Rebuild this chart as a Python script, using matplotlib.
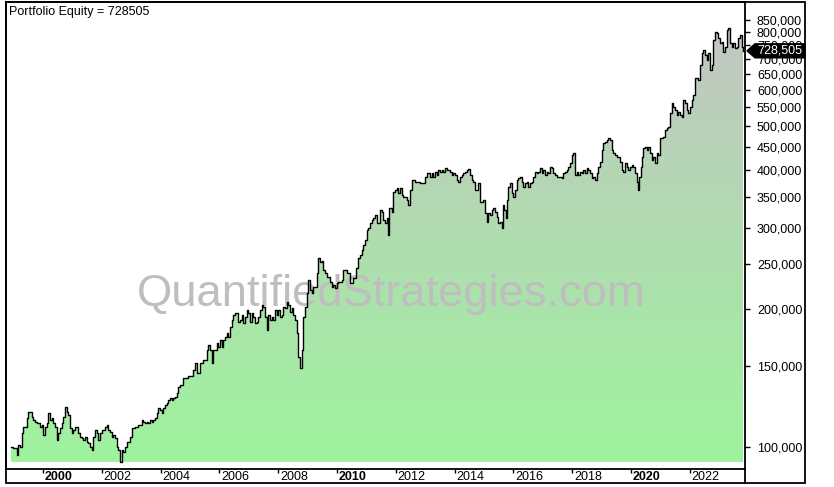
import numpy as np
import matplotlib
matplotlib.use("Agg")
import matplotlib.pyplot as plt
from matplotlib.ticker import FixedLocator, FuncFormatter, NullLocator
from matplotlib.patches import Rectangle, Polygon
from matplotlib.lines import Line2D

plt.rcParams["font.family"] = ["Liberation Sans", "DejaVu Sans"]

# weekly equity curve (years as decimals, equity in thousands)
years_1999_2004 = [
    1998.91, 1998.98, 1999.12, 1999.15, 1999.22, 1999.29, 1999.32, 1999.46, 1999.49, 1999.56,
    1999.63, 1999.66, 1999.73, 1999.80, 1999.90, 1999.97, 2000.00, 2000.07, 2000.14, 2000.17,
    2000.24, 2000.31, 2000.34, 2000.41, 2000.48, 2000.51, 2000.58, 2000.65, 2000.68, 2000.75,
    2000.82, 2000.85, 2000.92, 2000.99, 2001.02, 2001.09, 2001.16, 2001.19, 2001.26, 2001.33,
    2001.36, 2001.43, 2001.50, 2001.53, 2001.60, 2001.67, 2001.70, 2001.77, 2001.84, 2001.87,
    2001.94, 2002.01, 2002.04, 2002.11, 2002.18, 2002.21, 2002.28, 2002.35, 2002.38, 2002.45,
    2002.52, 2002.55, 2002.62, 2002.69, 2002.72, 2002.79, 2002.86, 2002.89, 2002.96, 2003.03,
    2003.06, 2003.13, 2003.20, 2003.23, 2003.30, 2003.37, 2003.40, 2003.47, 2003.54, 2003.57,
    2003.64, 2003.71, 2003.74, 2003.81, 2003.88, 2003.91, 2003.98, 2004.05, 2004.08, 2004.15,
    2004.22, 2004.25, 2004.32, 2004.39, 2004.42, 2004.49, 2004.56, 2004.59, 2004.66]
equity_1999_2004 = [
    100.0, 99.5, 96.1, 101.0, 100.0, 107.3, 110.6, 115.7, 119.2, 119.2,
    116.2, 114.5, 113.4, 112.8, 110.6, 111.7, 106.2, 110.6, 112.8, 118.6,
    114.5, 115.7, 112.8, 110.6, 103.6, 107.3, 110.0, 112.8, 116.2, 122.2,
    119.2, 117.4, 110.0, 107.3, 108.9, 110.6, 110.6, 107.3, 105.1, 104.6,
    103.6, 105.1, 102.5, 102.0, 100.0, 98.5, 105.1, 108.9, 107.3, 103.6,
    107.3, 108.9, 108.9, 110.6, 111.7, 108.9, 107.8, 105.1, 106.2, 104.6,
    100.0, 98.5, 92.8, 98.5, 97.5, 100.0, 102.5, 102.5, 105.1, 110.0,
    110.0, 110.6, 110.6, 111.7, 111.7, 114.5, 113.4, 112.8, 113.4, 112.8,
    114.5, 113.4, 114.5, 115.7, 118.6, 121.6, 120.4, 118.6, 121.6, 123.5,
    124.7, 126.6, 127.9, 126.6, 127.9, 128.5, 131.1, 135.1, 136.4]

years_2005_2010 = [
    2004.76, 2004.93, 2005.10, 2005.17, 2005.24, 2005.27, 2005.34, 2005.44, 2005.58, 2005.61,
    2005.68, 2005.75, 2005.78, 2005.92, 2005.95, 2006.02, 2006.09, 2006.12, 2006.19, 2006.26,
    2006.29, 2006.36, 2006.43, 2006.46, 2006.53, 2006.60, 2006.63, 2006.70, 2006.77, 2006.80,
    2006.87, 2006.94, 2006.97, 2007.04, 2007.11, 2007.14, 2007.21, 2007.28, 2007.31, 2007.38,
    2007.45, 2007.48, 2007.55, 2007.62, 2007.65, 2007.72, 2007.79, 2007.82, 2007.89, 2007.96,
    2007.99, 2008.06, 2008.13, 2008.16, 2008.23, 2008.30, 2008.33, 2008.40, 2008.47, 2008.50,
    2008.57, 2008.64, 2008.67, 2008.74, 2008.81, 2008.84, 2008.91, 2008.98, 2009.01, 2009.08,
    2009.15, 2009.18, 2009.25, 2009.32, 2009.35, 2009.42, 2009.49, 2009.52, 2009.59, 2009.66,
    2009.76, 2009.83, 2009.86, 2009.93, 2010.00, 2010.03, 2010.17, 2010.20, 2010.34, 2010.44,
    2010.54, 2010.65]
equity_2005_2010 = [
    141.3, 142.7, 147.1, 152.3, 144.9, 144.9, 152.3, 154.7, 162.6, 166.7,
    162.6, 152.3, 162.6, 168.4, 165.0, 171.0, 165.0, 171.0, 173.6, 177.1,
    173.6, 182.5, 189.0, 193.8, 195.7, 195.7, 187.1, 189.0, 193.8, 186.2,
    191.9, 198.7, 195.7, 187.1, 195.7, 191.9, 186.2, 187.1, 191.9, 198.7,
    203.7, 201.7, 191.9, 179.8, 193.8, 189.0, 191.9, 189.0, 198.7, 193.8,
    198.7, 191.9, 193.8, 201.7, 200.7, 206.8, 203.7, 196.7, 200.7, 193.8,
    189.0, 177.1, 157.0, 148.6, 162.6, 191.9, 201.7, 216.4, 231.0, 219.7,
    216.4, 223.0, 223.0, 239.2, 258.0, 252.6, 253.9, 242.8, 239.2, 234.5,
    228.6, 223.0, 225.3, 221.9, 227.5, 228.6, 231.0, 242.8, 239.2, 227.5,
    233.4, 245.3]

years_2011_2018 = [
    2010.71, 2010.78, 2010.85, 2010.88, 2010.95, 2011.02, 2011.05, 2011.12, 2011.19, 2011.22,
    2011.29, 2011.36, 2011.39, 2011.46, 2011.53, 2011.56, 2011.63, 2011.70, 2011.73, 2011.77,
    2011.87, 2011.90, 2011.97, 2012.04, 2012.07, 2012.14, 2012.21, 2012.24, 2012.31, 2012.38,
    2012.41, 2012.48, 2012.55, 2012.59, 2012.65, 2012.72, 2012.82, 2012.89, 2012.99, 2013.06,
    2013.10, 2013.16, 2013.23, 2013.27, 2013.33, 2013.40, 2013.44, 2013.50, 2013.57, 2013.61,
    2013.67, 2013.74, 2013.78, 2013.84, 2013.91, 2013.95, 2014.01, 2014.08, 2014.12, 2014.18,
    2014.25, 2014.29, 2014.35, 2014.42, 2014.46, 2014.52, 2014.59, 2014.63, 2014.69, 2014.76,
    2014.80, 2014.86, 2014.93, 2014.97, 2015.03, 2015.10, 2015.14, 2015.20, 2015.27, 2015.31,
    2015.37, 2015.44, 2015.48, 2015.54, 2015.61, 2015.65, 2015.68, 2015.75, 2015.78, 2015.82,
    2015.88, 2015.95, 2015.99, 2016.05, 2016.12, 2016.16, 2016.22, 2016.29, 2016.33, 2016.39,
    2016.46, 2016.50, 2016.56, 2016.63, 2016.67, 2016.73, 2016.80, 2016.84, 2016.90, 2016.97,
    2017.01, 2017.07, 2017.14, 2017.18, 2017.24, 2017.31, 2017.35, 2017.41, 2017.48, 2017.52,
    2017.59, 2017.65, 2017.69, 2017.76, 2017.82, 2017.86, 2017.93, 2017.99, 2018.03, 2018.10,
    2018.16, 2018.20, 2018.27]
equity_2011_2018 = [
    258.0, 261.8, 268.4, 275.2, 282.3, 296.8, 299.8, 306.8, 312.0, 315.1,
    320.0, 306.8, 306.8, 328.1, 324.8, 312.0, 306.8, 315.1, 289.4, 331.4,
    324.8, 359.0, 362.6, 366.3, 357.3, 366.3, 353.7, 350.2, 350.2, 345.0,
    336.4, 362.6, 381.3, 381.3, 377.5, 377.5, 375.6, 375.6, 387.1, 394.9,
    394.9, 387.1, 394.9, 387.1, 396.9, 391.0, 400.8, 396.9, 400.8, 396.9,
    404.9, 400.8, 400.8, 396.9, 391.0, 394.9, 391.0, 381.3, 377.5, 387.1,
    391.0, 394.9, 396.9, 400.8, 402.8, 391.0, 381.3, 377.5, 362.6, 362.6,
    375.6, 341.6, 341.6, 345.0, 323.1, 308.9, 323.1, 320.0, 328.1, 331.4,
    324.8, 316.7, 306.8, 308.4, 299.8, 336.4, 328.1, 315.1, 345.0, 368.1,
    375.6, 357.3, 350.2, 362.6, 381.3, 385.1, 387.1, 377.5, 368.1, 375.6,
    377.5, 368.1, 375.6, 377.5, 387.1, 396.9, 394.9, 396.9, 404.9, 394.9,
    400.8, 391.0, 396.9, 394.9, 406.9, 404.9, 394.9, 391.0, 387.1, 387.1,
    387.1, 385.1, 394.9, 396.9, 400.8, 406.9, 415.1, 432.2, 436.6, 391.0,
    396.9, 391.0, 396.9]

years_2018_2023 = [
    2018.33, 2018.37, 2018.44, 2018.50, 2018.54, 2018.61, 2018.67, 2018.71, 2018.78, 2018.84,
    2018.88, 2018.95, 2019.01, 2019.05, 2019.12, 2019.18, 2019.22, 2019.29, 2019.35, 2019.39,
    2019.46, 2019.52, 2019.56, 2019.63, 2019.69, 2019.73, 2019.80, 2019.86, 2019.90, 2019.97,
    2020.03, 2020.07, 2020.14, 2020.20, 2020.24, 2020.27, 2020.34, 2020.37, 2020.41, 2020.48,
    2020.54, 2020.58, 2020.65, 2020.71, 2020.75, 2020.82, 2020.88, 2020.92, 2020.99, 2021.05,
    2021.09, 2021.16, 2021.22, 2021.26, 2021.33, 2021.39, 2021.43, 2021.50, 2021.56, 2021.60,
    2021.67, 2021.73, 2021.77, 2021.84, 2021.90, 2021.94, 2022.01, 2022.07, 2022.11, 2022.18,
    2022.24, 2022.28, 2022.35, 2022.41, 2022.45, 2022.52, 2022.59, 2022.62, 2022.69, 2022.76,
    2022.79, 2022.86, 2022.93, 2022.96, 2023.03, 2023.10, 2023.13, 2023.20, 2023.27, 2023.30,
    2023.37, 2023.44, 2023.47, 2023.54, 2023.61, 2023.64, 2023.71, 2023.78, 2023.81]
equity_2018_2023 = [
    394.9, 400.8, 394.9, 404.9, 400.8, 394.9, 385.1, 387.1, 381.3, 394.9,
    406.9, 417.3, 443.1, 459.0, 461.3, 465.9, 470.6, 465.9, 443.1, 436.6,
    432.2, 427.9, 427.9, 417.3, 400.8, 396.9, 415.1, 406.9, 400.8, 406.9,
    411.0, 406.9, 394.9, 377.5, 362.6, 387.1, 406.9, 427.9, 447.6, 449.8,
    443.1, 449.8, 436.6, 421.5, 427.9, 415.1, 436.6, 432.2, 470.6, 470.6,
    473.0, 489.8, 494.7, 497.2, 533.4, 560.8, 549.6, 541.4, 528.1, 536.1,
    528.1, 522.8, 569.2, 560.8, 541.4, 533.4, 549.6, 569.2, 583.7, 635.6,
    635.6, 629.3, 678.4, 720.5, 731.3, 713.2, 695.6, 720.5, 661.6, 678.4,
    768.9, 800.3, 796.3, 776.6, 757.5, 761.3, 724.0, 742.4, 808.4, 816.5,
    757.5, 742.4, 757.5, 738.7, 742.4, 776.6, 788.4, 742.4, 728.505]

year_ticks = [2000, 2002, 2004, 2006, 2008, 2010, 2012, 2014, 2016, 2018, 2020, 2022]
equity_ticks = [100000, 150000, 200000, 250000, 300000, 350000, 400000, 450000,
                500000, 550000, 600000, 650000, 700000, 750000, 800000, 850000]

years = np.array(years_1999_2004 + years_2005_2010 + years_2011_2018 + years_2018_2023)
equity = np.round(np.array(equity_1999_2004 + equity_2005_2010 + equity_2011_2018
                           + equity_2018_2023) * 1000)

W, H = 834, 487
fig = plt.figure(figsize=(W / 100, H / 100), dpi=100)
fig.patch.set_facecolor("white")


def fx(px):
    return px / W


def fy(py):
    return 1 - py / H


ax = fig.add_axes([fx(6), fy(469), (745 - 6) / W, (469 - 2) / H])
ax.set_yscale("log")
ax.set_xlim(1998.741, 2023.878)
ax.set_ylim(89560, 930500)
ax.set_autoscale_on(False)

# gradient area under the curve
poly = ax.fill_between(years, equity, equity.min(), step="post",
                       facecolor="none", edgecolor="none")
top_col = np.array([196, 196, 196]) / 255
bot_col = np.array([157, 244, 157]) / 255
frac = np.linspace(0, 1, 256)[:, None]
grad = (bot_col * (1 - frac) + top_col * frac)[:, None, :]
im = ax.imshow(grad, extent=(0, 1, 0, 1), transform=ax.transAxes,
               aspect="auto", origin="lower", interpolation="bilinear", zorder=1)
im.set_clip_path(poly.get_paths()[0], ax.transData)

ax.text(0.521, 0.349, "QuantifiedStrategies.com", transform=ax.transAxes,
        ha="center", va="baseline", fontsize=32.7, color="#bebebe", zorder=2)

ax.plot(years, equity, drawstyle="steps-post", color="black", lw=1.0, zorder=3)

# axes styling
for s in ax.spines.values():
    s.set_linewidth(1.3)
ax.yaxis.tick_right()
ax.yaxis.set_major_locator(FixedLocator(equity_ticks))
ax.yaxis.set_minor_locator(NullLocator())
ax.yaxis.set_major_formatter(FuncFormatter(lambda v, p: f"{v:,.0f}"))
ax.tick_params(axis="y", direction="out", length=3.6, width=1, pad=5,
               labelsize=9, colors="black")
ax.xaxis.set_major_locator(FixedLocator(year_ticks))
ax.xaxis.set_minor_locator(NullLocator())
ax.tick_params(axis="x", direction="out", length=3, width=1, labelbottom=False)

for yr in year_ticks:
    ax.annotate(str(yr), xy=(yr, 0), xycoords=("data", "axes fraction"),
                xytext=(2, -8), textcoords="offset pixels", ha="left", va="center",
                fontsize=9, fontweight="bold" if yr % 10 == 0 else "normal",
                annotation_clip=False)

# outer frame and axis extension
fig.add_artist(Rectangle((fx(6), fy(483)), (805 - 6) / W, (483 - 2) / H,
                         transform=fig.transFigure, fill=False, lw=1.3, ec="black"))
fig.add_artist(Line2D([fx(745), fx(745)], [fy(469), fy(483)],
                      transform=fig.transFigure, lw=1.3, color="black"))

fig.text(fx(9), fy(12), f"Portfolio Equity = {equity[-1]:.0f}",
         ha="left", va="center", fontsize=9)

# last value tag
ly = ax.transData.transform((years[-1], equity[-1]))[1] / H
hh = 7 / H
tag = Polygon([(fx(747), ly), (fx(755), ly + hh), (fx(805), ly + hh),
               (fx(805), ly - hh), (fx(755), ly - hh)], closed=True,
              transform=fig.transFigure, fc="black", ec="black", zorder=5)
fig.add_artist(tag)
fig.text(fx(802), ly, f"{equity[-1]:,.0f}", ha="right", va="center",
         fontsize=9, color="white", zorder=6)

fig.savefig("out.png", dpi=100)
